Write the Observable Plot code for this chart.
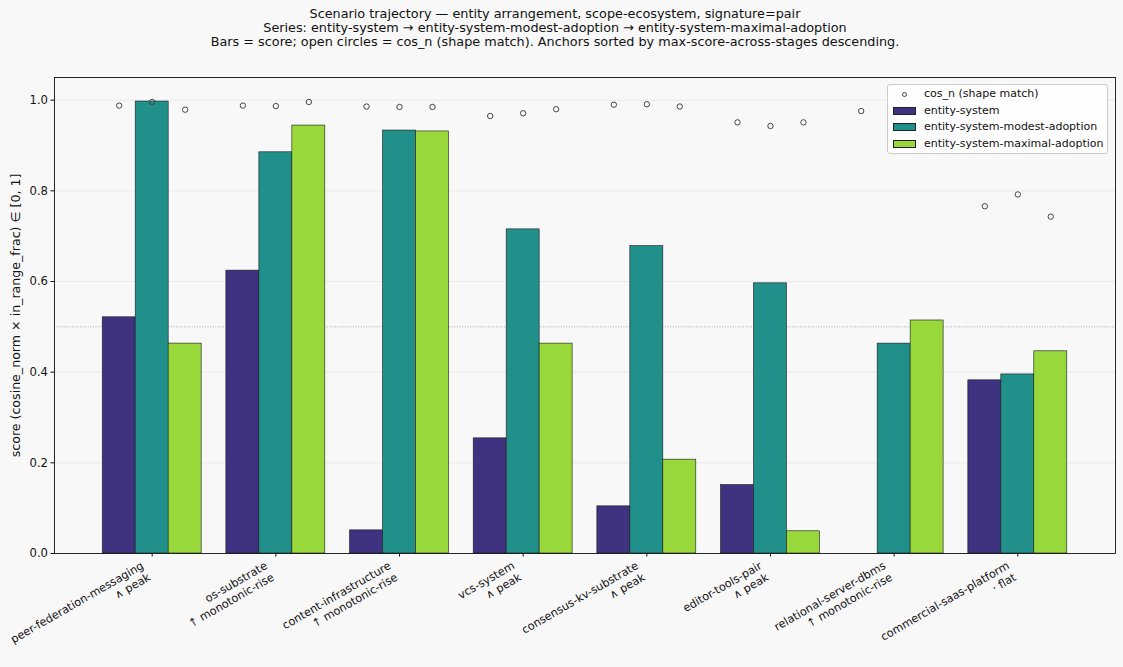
<!DOCTYPE html>
<html>
<head>
<meta charset="utf-8">
<script src="https://cdn.jsdelivr.net/npm/d3@7"></script>
<script src="https://cdn.jsdelivr.net/npm/@observablehq/plot@0.6"></script>
<style>
  html, body { margin: 0; padding: 0; background: #f8f8f8; }
  #wrap { position: relative; width: 1123px; height: 667px; font-family: "DejaVu Sans", sans-serif; color: #111; }
  #title { position: absolute; left: 0; top: 7px; width: 1110px; text-align: center; font-size: 12.8px; line-height: 14.2px; }
  #chart { position: absolute; left: 0; top: 0; }
  #legend { position: absolute; left: 887px; top: 84px; width: 221px; height: 70px; box-sizing: border-box;
            background: rgba(255,255,255,0.8); border: 1px solid #cccccc; border-radius: 3px; font-size: 11px; }
  .row { position: absolute; left: 0; height: 16px; }
  .sw { position: absolute; left: 5px; width: 23px; height: 8px; border: 0.8px solid #222; box-sizing: border-box; }
  .circ { position: absolute; left: 14px; width: 5px; height: 5px; border: 1px solid #444; border-radius: 50%; box-sizing: border-box; }
  .lab { position: absolute; left: 36px; white-space: nowrap; line-height: 14px; }
</style>
</head>
<body>
<div id="wrap">
  <div id="chart"></div>
  <div id="title">
    <div>Scenario trajectory — entity arrangement, scope-ecosystem, signature=pair</div>
    <div>Series: entity-system → entity-system-modest-adoption → entity-system-maximal-adoption</div>
    <div>Bars = score; open circles = cos_n (shape match). Anchors sorted by max-score-across-stages descending.</div>
  </div>
  <div id="legend"></div>
</div>
<script>
// ---- data ----
const anchors = ["peer-federation-messaging", "os-substrate", "content-infrastructure", "vcs-system",
                 "consensus-kv-substrate", "editor-tools-pair", "relational-server-dbms", "commercial-saas-platform"];
const shapes = ["∧ peak", "↑ monotonic-rise", "↑ monotonic-rise", "∧ peak", "∧ peak", "∧ peak", "↑ monotonic-rise", "· flat"];
const series = ["entity-system", "entity-system-modest-adoption", "entity-system-maximal-adoption"];
const colors = ["#3f3281", "#21908b", "#98d83b"];

const scoreSystem  = [0.521, 0.624, 0.051, 0.254, 0.104, 0.151, 0.000, 0.382];
const scoreModest  = [0.997, 0.885, 0.933, 0.715, 0.678, 0.596, 0.463, 0.395];
const scoreMaximal = [0.463, 0.944, 0.931, 0.463, 0.207, 0.049, 0.514, 0.446];

const cosSystem  = [0.988, 0.988, 0.986, 0.965, 0.990, 0.951, 0.976, 0.766];
const cosModest  = [0.996, 0.987, 0.985, 0.971, 0.991, 0.943, null, 0.792];
const cosMaximal = [0.979, 0.996, 0.985, 0.980, 0.986, 0.951, null, 0.743];

const yTicks = [0.0, 0.2, 0.4, 0.6, 0.8, 1.0];
const yLabel = "score (cosine_norm × in_range_frac) ∈ [0, 1]";
const cosLegend = "cos_n (shape match)";

// ---- build table ----
const scores = [scoreSystem, scoreModest, scoreMaximal];
const coss = [cosSystem, cosModest, cosMaximal];
const rows = [];
anchors.forEach((a, gi) => {
  series.forEach((s, si) => {
    rows.push({gi, si, anchor: a, series: s, score: scores[si][gi], cos: coss[si][gi]});
  });
});
const groups = anchors.map((a, gi) => ({gi, label: a + "\n" + shapes[gi]}));
const bw = 0.8 / series.length;
const cx = d => d.gi + (d.si - 1) * bw;

const chart = Plot.plot({
  width: 1123,
  height: 667,
  marginTop: 77,
  marginBottom: 114,
  marginLeft: 54,
  marginRight: 8,
  style: {background: "transparent", fontFamily: "DejaVu Sans, sans-serif", fontSize: "11.6px", color: "#111"},
  x: {type: "linear", domain: [-0.79, anchors.length - 1 + 0.79], axis: null},
  y: {domain: [0, 1.05], axis: null},
  color: {type: "ordinal", domain: series, range: colors},
  marks: [
    Plot.ruleY(yTicks.filter(d => d > 0), {stroke: "#e6e6e6", strokeWidth: 0.8}),
    Plot.ruleY([0.5], {stroke: "#9a9a9a", strokeWidth: 0.8, strokeDasharray: "1,1.6"}),
    Plot.rectY(rows, {
      x1: d => cx(d) - bw / 2, x2: d => cx(d) + bw / 2, y1: 0, y2: "score",
      fill: "series", stroke: "#1a1a1a", strokeWidth: 0.6
    }),
    Plot.dot(rows.filter(d => d.cos != null), {
      x: cx, y: "cos", r: 2.7, stroke: "#454545", fill: "none", strokeWidth: 1
    }),
    Plot.frame({stroke: "#111", strokeWidth: 0.9}),
    Plot.axisY({ticks: yTicks, tickFormat: d3.format(".1f"), tickSize: 3.5, tickPadding: 3, label: null, fontSize: 11.6, color: "#111"}),
    Plot.axisX({ticks: d3.range(anchors.length), tickFormat: () => "", tickSize: 3.5, label: null}),
    Plot.text(groups, {
      x: "gi", frameAnchor: "bottom", text: "label", rotate: -30,
      textAnchor: "end", lineAnchor: "bottom", lineHeight: 1.2, dy: 26, dx: -1, fontSize: 11.2, fill: "#111"
    }),
    Plot.text([yLabel], {frameAnchor: "left", textAnchor: "middle", lineAnchor: "middle", rotate: -90, dx: -39, fontSize: 12.6, fill: "#111"})
  ]
});
document.getElementById("chart").appendChild(chart);

// ---- legend ----
const leg = document.getElementById("legend");
const items = [{type: "circle", label: cosLegend}].concat(series.map((s, i) => ({type: "patch", color: colors[i], label: s})));
items.forEach((it, i) => {
  const row = document.createElement("div");
  row.className = "row";
  row.style.top = (1 + i * 16.7) + "px";
  row.style.width = "100%";
  const mk = document.createElement("div");
  if (it.type === "circle") { mk.className = "circ"; mk.style.top = "5.5px"; }
  else { mk.className = "sw"; mk.style.background = it.color; mk.style.top = "4px"; }
  row.appendChild(mk);
  const lb = document.createElement("div");
  lb.className = "lab";
  lb.style.top = "1px";
  lb.textContent = it.label;
  row.appendChild(lb);
  leg.appendChild(row);
});
</script>
</body>
</html>
